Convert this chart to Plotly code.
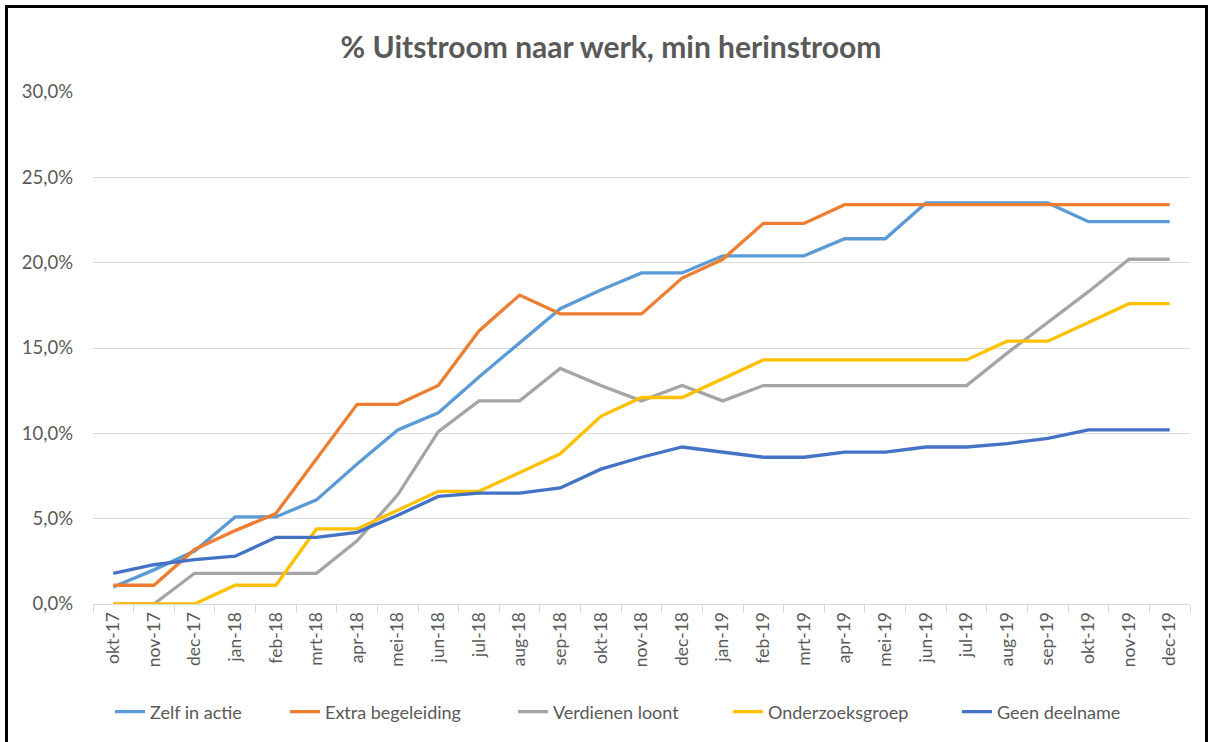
import plotly.graph_objects as go

months = ["okt-17", "nov-17", "dec-17", "jan-18", "feb-18", "mrt-18", "apr-18", "mei-18",
          "jun-18", "jul-18", "aug-18", "sep-18", "okt-18", "nov-18", "dec-18", "jan-19",
          "feb-19", "mrt-19", "apr-19", "mei-19", "jun-19", "jul-19", "aug-19", "sep-19",
          "okt-19", "nov-19", "dec-19"]

zelf_in_actie = [1.0, 2.0, 3.1, 5.1, 5.1, 6.1, 8.2, 10.2, 11.2, 13.3, 15.3, 17.3, 18.4, 19.4,
                 19.4, 20.4, 20.4, 20.4, 21.4, 21.4, 23.5, 23.5, 23.5, 23.5, 22.4, 22.4, 22.4]
extra_begeleiding = [1.1, 1.1, 3.2, 4.3, 5.3, 8.5, 11.7, 11.7, 12.8, 16.0, 18.1, 17.0, 17.0, 17.0,
                     19.1, 20.2, 22.3, 22.3, 23.4, 23.4, 23.4, 23.4, 23.4, 23.4, 23.4, 23.4, 23.4]
verdienen_loont = [0.0, 0.0, 1.8, 1.8, 1.8, 1.8, 3.7, 6.4, 10.1, 11.9, 11.9, 13.8, 12.8, 11.9,
                   12.8, 11.9, 12.8, 12.8, 12.8, 12.8, 12.8, 12.8, 14.7, 16.5, 18.3, 20.2, 20.2]
onderzoeksgroep = [0.0, 0.0, 0.0, 1.1, 1.1, 4.4, 4.4, 5.5, 6.6, 6.6, 7.7, 8.8, 11.0, 12.1,
                   12.1, 13.2, 14.3, 14.3, 14.3, 14.3, 14.3, 14.3, 15.4, 15.4, 16.5, 17.6, 17.6]
geen_deelname = [1.8, 2.3, 2.6, 2.8, 3.9, 3.9, 4.2, 5.2, 6.3, 6.5, 6.5, 6.8, 7.9, 8.6,
                 9.2, 8.9, 8.6, 8.6, 8.9, 8.9, 9.2, 9.2, 9.4, 9.7, 10.2, 10.2, 10.2]

series = [
    ("Zelf in actie", zelf_in_actie, "#5B9BD5"),
    ("Extra begeleiding", extra_begeleiding, "#ED7D31"),
    ("Verdienen loont", verdienen_loont, "#A5A5A5"),
    ("Onderzoeksgroep", onderzoeksgroep, "#FFC000"),
    ("Geen deelname", geen_deelname, "#4472C4"),
]

FONT = "Lato, 'Open Sans', sans-serif"
GRAY = "#595959"

W, H = 1212, 742
ML, MR, MT, MB = 93, 22, 92, 138
PW, PH = W - ML - MR, H - MT - MB

# legend text start positions (px) and legend row centre
legend_text_x = [150, 325, 553, 768, 997]
legend_row_y = 712

fig = go.Figure()
legend_layouts = {}
for i, (name, vals, color) in enumerate(series):
    key = "legend" if i == 0 else f"legend{i + 1}"
    fig.add_trace(go.Scatter(x=months, y=vals, name=name, mode="lines",
                             line=dict(color=color, width=3.3), legend=key))
    legend_layouts[key] = dict(
        orientation="h", x=(legend_text_x[i] - 40 - ML) / PW, xanchor="left",
        y=(H - MB - legend_row_y) / PH, yanchor="middle",
        font=dict(family=FONT, size=18, color=GRAY), itemwidth=30,
        bgcolor="rgba(0,0,0,0)")

fig.update_layout(
    width=W, height=H,
    paper_bgcolor="white", plot_bgcolor="white",
    separators=",.",
    margin=dict(l=ML, r=MR, t=MT, b=MB, autoexpand=False),
    font=dict(family=FONT, color=GRAY, size=16),
    title=dict(text="<b>% Uitstroom naar werk, min herinstroom</b>", x=611 / W, xanchor="center",
               y=1 - 47 / H, yanchor="middle", yref="container",
               font=dict(family=FONT, size=30, color=GRAY)),
    showlegend=True,
    xaxis=dict(type="category", tickangle=-90, tickson="boundaries", ticks="outside",
               ticklen=8, tickcolor="#D9D9D9", showline=True, linecolor="#D9D9D9",
               linewidth=1, showgrid=False, range=[-0.5, 26.5],
               tickfont=dict(family=FONT, size=17.5, color=GRAY)),
    yaxis=dict(range=[0, 30], dtick=5, tickformat=".1f", ticksuffix="%",
               showgrid=True, gridcolor="#D9D9D9", gridwidth=1, zeroline=False,
               showline=False, ticks="", ticklabelstandoff=19,
               tickfont=dict(family=FONT, size=18.5, color=GRAY)),
    **legend_layouts,
)

# Outer chart frame
fig.add_shape(type="rect", xref="paper", yref="paper",
              x0=(6.5 - ML) / PW, x1=(1206.5 - ML) / PW,
              y0=(H - MB - 760) / PH, y1=(H - MB - 6.5) / PH,
              line=dict(color="black", width=3), fillcolor="rgba(0,0,0,0)", layer="below")

fig.write_html("out.html", config={"displayModeBar": False},
               post_script="document.body.style.margin='0';document.body.style.overflow='hidden';")
